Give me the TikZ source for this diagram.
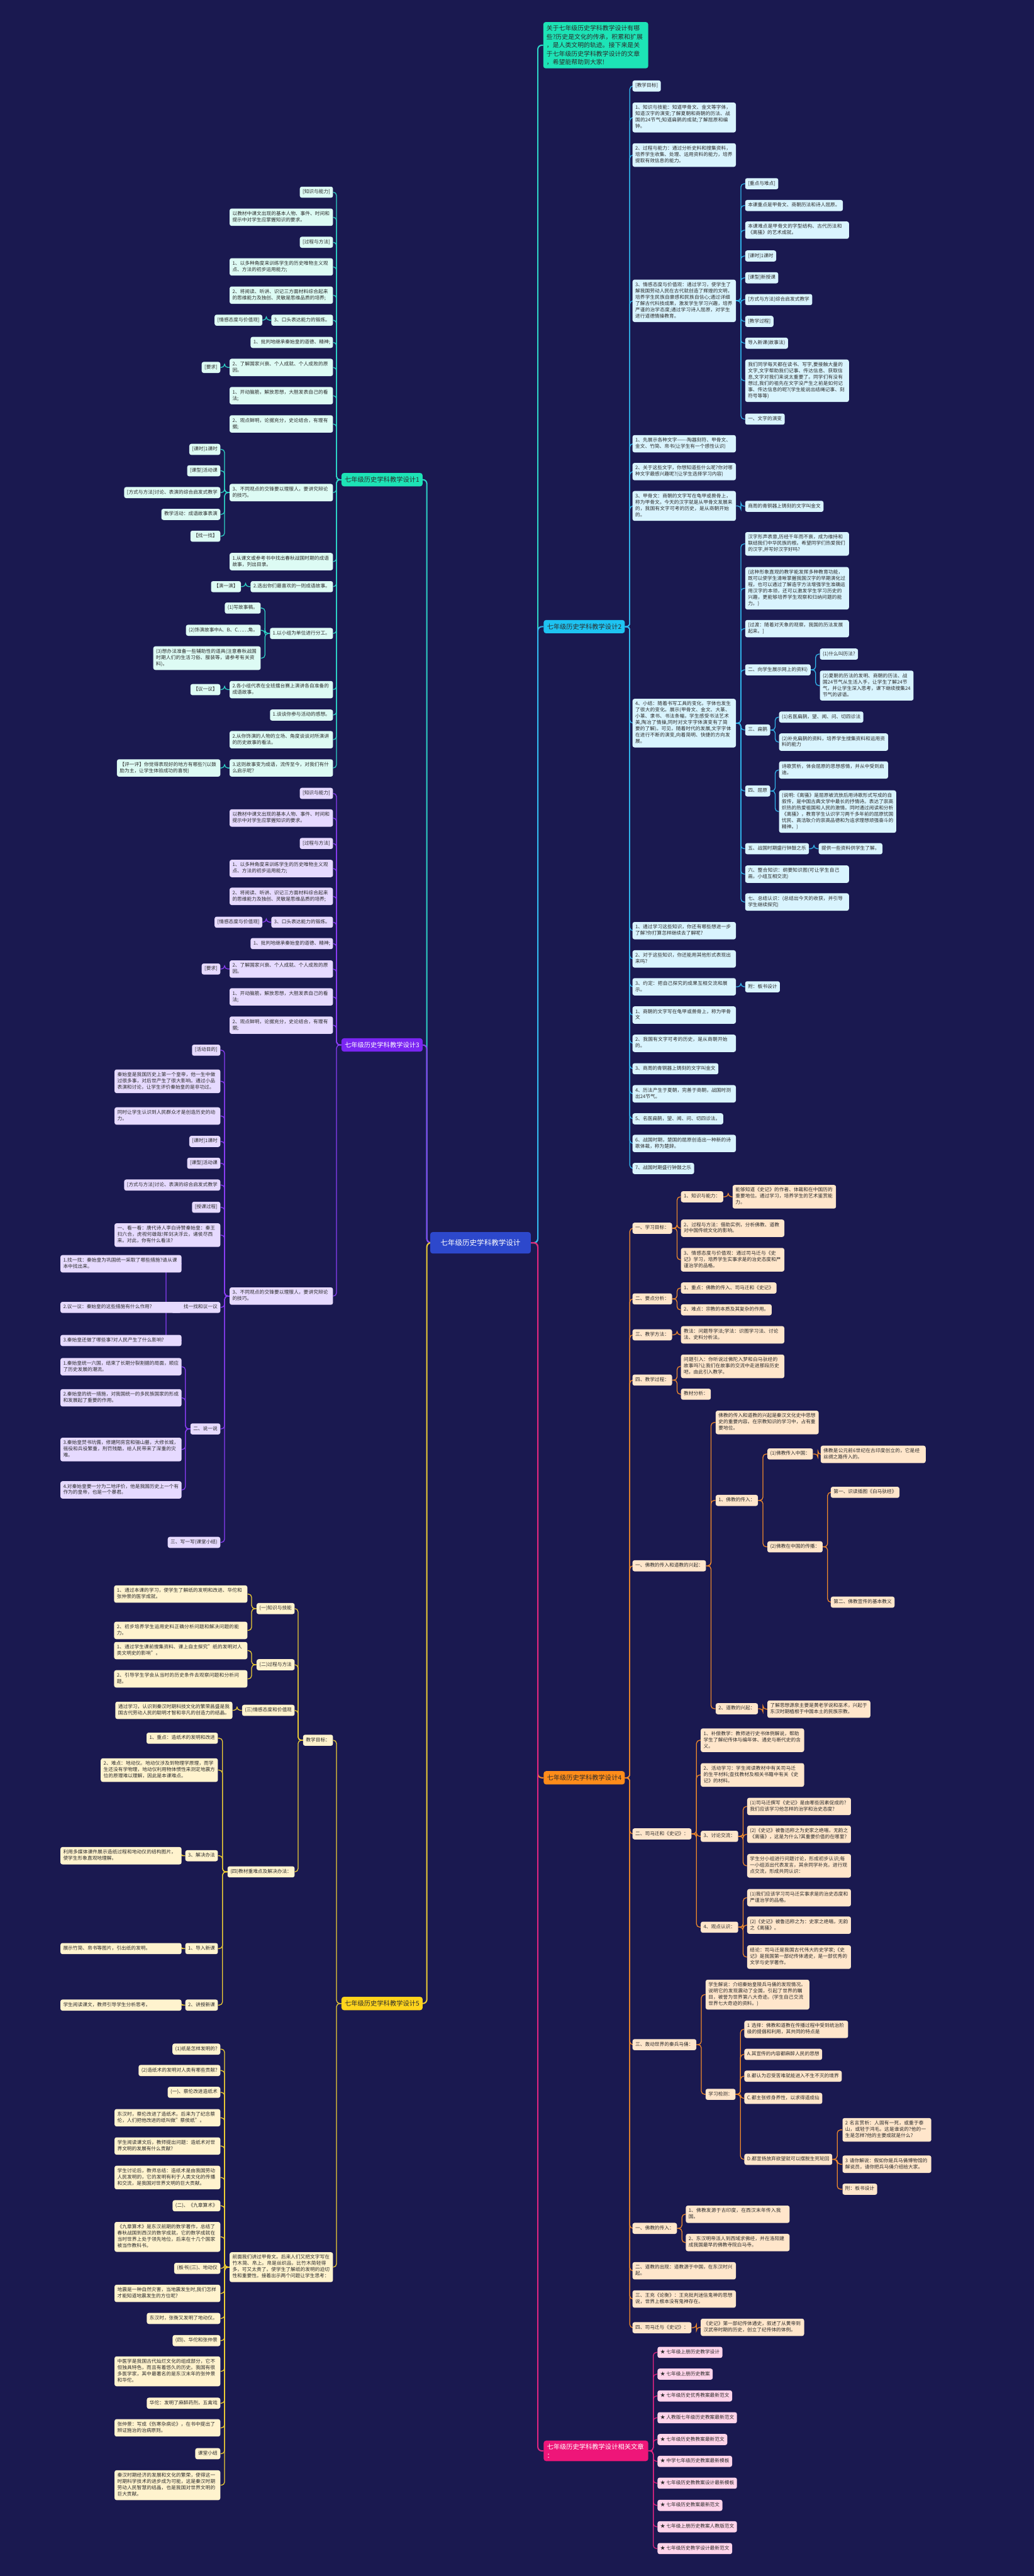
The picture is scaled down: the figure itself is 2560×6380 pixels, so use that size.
\documentclass[tikz,border=0pt]{standalone}
\usepackage{fontspec}
\setmainfont{Noto Sans CJK SC}
\XeTeXlinebreaklocale "zh"
\XeTeXlinebreakskip=0pt plus 0.3pt
\pgfdeclarelayer{bgl}\pgfdeclarelayer{lines}\pgfsetlayers{bgl,lines,main}
\definecolor{bgc}{HTML}{1A1950}
\definecolor{tx}{HTML}{2B2B2B}
\definecolor{c1m}{HTML}{1DE3B6}\definecolor{c1f}{HTML}{DDFBF4}\definecolor{c1l}{HTML}{2ED3C6}
\definecolor{c2m}{HTML}{1EC3F2}\definecolor{c2f}{HTML}{D9F4FE}\definecolor{c2l}{HTML}{32B6EC}
\definecolor{c3m}{HTML}{7A25F2}\definecolor{c3f}{HTML}{E6DAFF}\definecolor{c3l}{HTML}{8A3DF5}
\definecolor{c4m}{HTML}{FF8C1A}\definecolor{c4f}{HTML}{FFE6CB}\definecolor{c4l}{HTML}{F08A2C}
\definecolor{c5m}{HTML}{FFD41C}\definecolor{c5f}{HTML}{FFF3CE}\definecolor{c5l}{HTML}{EFCF35}
\definecolor{c6m}{HTML}{EE1679}\definecolor{c6f}{HTML}{FFD4EA}\definecolor{c6l}{HTML}{DE2580}
\definecolor{cm}{HTML}{2D48CC}
\tikzset{
 nd/.style={rounded corners=2.5pt, inner xsep=3.5pt, inner ysep=3pt, minimum height=13.5pt,
   align=left, text=tx, font=\fontsize{6}{7.75}\selectfont,
   execute at begin node=\strut, execute at end node=\strut},
 tw/.style={text width=#1*0.5pt-7pt},
 L/.style={anchor=east}, R/.style={anchor=west},
 k1/.style={nd, fill=c1f}, k2/.style={nd, fill=c2f}, k3/.style={nd, fill=c3f},
 k4/.style={nd, fill=c4f}, k5/.style={nd, fill=c5f}, k6/.style={nd, fill=c6f},
 mn/.style={rounded corners=3pt, minimum height=16.5pt, minimum width=98pt, inner xsep=4pt,
   font=\fontsize{8}{10}\selectfont},
 mn1/.style={mn, fill=c1m, text=tx}, mn2/.style={mn, fill=c2m, text=tx},
 mn3/.style={mn, fill=c3m, text=white}, mn4/.style={mn, fill=c4m, text=tx},
 mn5/.style={mn, fill=c5m, text=tx},
 ln/.style={line width=1pt, rounded corners=4pt},
 lm/.style={line width=1.6pt, rounded corners=5pt},
}
\newcommand\CL[2]{\foreach \chn in {#2}{\draw (#1.west) -- ++(-12,0) |- (\chn.east);}}
\newcommand\CR[2]{\foreach \chn in {#2}{\draw (#1.east) -- ++(12,0) |- (\chn.west);}}
\begin{document}
\begin{tikzpicture}[x=0.5pt,y=-0.5pt]
\useasboundingbox (0,0) rectangle (2560,6380);
\begin{pgfonlayer}{bgl}\fill[bgc] (0,0) rectangle (2560,6380);\end{pgfonlayer}

% ---------- centre ----------
\node[rounded corners=3pt, fill=cm, text=white, minimum width=124.5pt, minimum height=26.5pt,
  font=\fontsize{9}{11}\selectfont] (C) at (1190,3078) {七年级历史学科教学设计};

% ---------- intro ----------
\node[R, rounded corners=3pt, fill=c1m, text=tx, text width=122pt, inner xsep=4pt, inner ysep=4pt,
  align=left, font=\fontsize{7.7}{10.5}\selectfont] (I) at (1345,112)
 {关于七年级历史学科教学设计有哪\\些?历史是文化的传承，积累和扩展\\，是人类文明的轨迹。接下来是关\\于七年级历史学科教学设计的文章\\，希望能帮助到大家!};

% ---------- branch 1 ----------
\node[mn1,L] (B1) at (1047,1188) {七年级历史学科教学设计1};
\node[k1,L] (a1) at (825,476) {[知识与能力]};
\node[k1,L,tw=256] (a2) at (825,538) {以教材中课文出现的基本人物、事件、时间和提示中对学生应掌握知识的要求。};
\node[k1,L] (a3) at (825,600) {[过程与方法]};
\node[k1,L,tw=256] (a4) at (825,661) {1、以多种角度来训练学生的历史唯物主义观点、方法的初步运用能力;};
\node[k1,L,tw=256] (a5) at (825,731) {2、将阅读、听讲、识记三方面材料综合起来的思维能力及独创、灵敏是思维品质的培养;};
\node[k1,L] (a6) at (825,793) {3、口头表达能力的锻炼。};
\node[k1,L] (a6a) at (650,793) {[情感态度与价值观]};
\node[k1,L] (a7) at (825,848) {1、批判地继承秦始皇的道德、精神;};
\node[k1,L,tw=256] (a8) at (825,910) {2、了解国家兴衰、个人成就、个人成败的原因。};
\node[k1,L] (a8a) at (546,910) {[要求]};
\node[k1,L,tw=256] (a9) at (825,980) {1、开动脑筋，解放思想，大胆发表自己的看法;};
\node[k1,L,tw=256] (a10) at (825,1050) {2、观点鲜明，论据充分，史论结合，有理有据;};
\node[k1,L,tw=256] (a11) at (825,1220) {3、不同观点的交锋要以理服人，要讲究辩论的技巧。};
\node[k1,L] (a11a) at (546,1113) {[课时]1课时};
\node[k1,L] (a11b) at (546,1166) {[课型]活动课};
\node[k1,L] (a11c) at (546,1220) {[方式与方法]讨论、表演的综合启发式教学};
\node[k1,L] (a11d) at (546,1274) {教学活动：成语故事表演};
\node[k1,L] (a11e) at (546,1328) {【找一找】};
\node[k1,L,tw=256] (a12) at (825,1391) {1.从课文或参考书中找出春秋战国时期的成语故事，列出目录。};
\node[k1,L] (a13) at (825,1453) {2.选出你们最喜欢的一则成语故事。};
\node[k1,L] (a13a) at (597,1453) {【演一演】};
\node[k1,L] (a14) at (825,1569) {1.以小组为单位进行分工。};
\node[k1,L] (a14a) at (646,1506) {(1)写故事稿。};
\node[k1,L] (a14b) at (646,1561) {(2)饰演故事中A、B、C……角。};
\node[k1,L,tw=266] (a14c) at (646,1630) {(3)想办法准备一些辅助性的道具(注意春秋战国时期人们的生活习俗、服装等，请参考有关资料)。};
\node[k1,L,tw=256] (a15) at (825,1708) {2.各小组代表在全班擂台赛上演讲各自准备的成语故事。};
\node[k1,L] (a15a) at (546,1708) {【议一议】};
\node[k1,L] (a16) at (825,1771) {1.谈谈你参与活动的感想。};
\node[k1,L,tw=256] (a17) at (825,1832) {2.从你饰演的人物的立场、角度谈谈对所演讲的历史故事的看法。};
\node[k1,L,tw=256] (a18) at (825,1902) {3.这则故事变为成语，流传至今，对我们有什么启示呢?};
\node[k1,L,tw=256] (a18a) at (546,1902) {【评一评】你觉得表现好的地方有哪些?(以鼓励为主，让学生体验成功的喜悦)};

% ---------- branch 3 ----------
\node[mn3,L] (B3) at (1047,2588) {七年级历史学科教学设计3};
\node[k3,L] (b1) at (825,1965) {[知识与能力]};
\node[k3,L,tw=256] (b2) at (825,2026) {以教材中课文出现的基本人物、事件、时间和提示中对学生应掌握知识的要求。};
\node[k3,L] (b3) at (825,2089) {[过程与方法]};
\node[k3,L,tw=256] (b4) at (825,2151) {1、以多种角度来训练学生的历史唯物主义观点、方法的初步运用能力;};
\node[k3,L,tw=256] (b5) at (825,2220) {2、将阅读、听讲、识记三方面材料综合起来的思维能力及独创、灵敏是思维品质的培养;};
\node[k3,L] (b6) at (825,2284) {3、口头表达能力的锻炼。};
\node[k3,L] (b6a) at (650,2284) {[情感态度与价值观]};
\node[k3,L] (b7) at (825,2337) {1、批判地继承秦始皇的道德、精神;};
\node[k3,L,tw=256] (b8) at (825,2400) {2、了解国家兴衰、个人成就、个人成败的原因。};
\node[k3,L] (b8a) at (546,2400) {[要求]};
\node[k3,L,tw=256] (b9) at (825,2469) {1、开动脑筋，解放思想，大胆发表自己的看法;};
\node[k3,L,tw=256] (b10) at (825,2539) {2、观点鲜明，论据充分，史论结合，有理有据;};
\node[k3,L,tw=256] (b11) at (825,3210) {3、不同观点的交锋要以理服人，要讲究辩论的技巧。};
\node[k3,L] (b11a) at (546,2601) {[活动目的]};
\node[k3,L,tw=262] (b11b) at (546,2678) {秦始皇是我国历史上第一个皇帝，他一生中做过很多事，对后世产生了很大影响。通过小品表演和讨论，让学生评价秦始皇的是非功过。};
\node[k3,L,tw=262] (b11c) at (546,2764) {同时让学生认识到人民群众才是创造历史的动力。};
\node[k3,L] (b11d) at (546,2827) {[课时]1课时};
\node[k3,L] (b11e) at (546,2881) {[课型]活动课};
\node[k3,L] (b11f) at (546,2935) {[方式与方法]讨论、表演的综合启发式教学};
\node[k3,L] (b11g) at (546,2990) {[授课过程]};
\node[k3,L,tw=262] (b11h) at (546,3059) {一、看一看：唐代诗人李白诗赞秦始皇：秦王扫六合，虎视何雄哉!挥剑决浮云，诸侯尽西来。对此，你有什么看法?};
\node[k3,L] (b11i) at (546,3238) {一、找一找和议一议};
\node[k3,L] (b11j) at (546,3539) {二、说一说};
\node[k3,L] (b11k) at (546,3820) {三、写一写(课堂小结)};
\node[k3,L,tw=300] (c1) at (450,3130) {1.找一找：秦始皇为巩固统一采取了哪些措施?请从课本中找出来。};
\node[k3,L,tw=300] (c2) at (450,3238) {2.议一议：秦始皇的这些措施有什么作用?};
\node[k3,L,tw=300] (c3) at (450,3320) {3.秦始皇还做了哪些事?对人民产生了什么影响?};
\node[k3,L,tw=300] (d1) at (450,3385) {1.秦始皇统一六国，结束了长期分裂割据的局面，顺应了历史发展的潮流。};
\node[k3,L,tw=300] (d2) at (450,3462) {2.秦始皇的统一措施，对我国统一的多民族国家的形成和发展起了重要的作用。};
\node[k3,L,tw=300] (d3) at (450,3590) {3.秦始皇焚书坑儒，修建阿房宫和骊山墓，大修长城，徭役和兵役繁重，刑罚残酷，给人民带来了深重的灾难。};
\node[k3,L,tw=300] (d4) at (450,3690) {4.对秦始皇要一分为二地评价，他是我国历史上一个有作为的皇帝，也是一个暴君。};

% ---------- branch 5 ----------
\node[mn5,L] (B5) at (1047,4962) {七年级历史学科教学设计5};
\node[k5,L] (e1) at (825,4310) {教学目标：};
\node[k5,L] (e1a) at (730,3984) {(一)知识与技能};
\node[k5,L,tw=330] (e1a1) at (613,3948) {1、通过本课的学习，使学生了解纸的发明和改进、华佗和张仲景的医学成就。};
\node[k5,L,tw=330] (e1a2) at (613,4038) {2、初步培养学生运用史料正确分析问题和解决问题的能力。};
\node[k5,L] (e1b) at (730,4123) {(二)过程与方法};
\node[k5,L,tw=330] (e1b1) at (613,4088) {1、通过学生课前搜集资料、课上自主探究"纸的发明对人类文明史的影响"。};
\node[k5,L,tw=330] (e1b2) at (613,4158) {2、引导学生学会从当时的历史条件去观察问题和分析问题。};
\node[k5,L] (e1c) at (730,4236) {(三)情感态度和价值观};
\node[k5,L,tw=290] (e1c1) at (576,4236) {通过学习，认识到秦汉时期科技文化的繁荣昌盛是我国古代劳动人民的聪明才智和非凡的创造力的结晶。};
\node[k5,L] (e1d) at (730,4636) {(四)教材重难点及解决办法：};
\node[k5,L] (e1d1) at (540,4305) {1、重点：造纸术的发明和改进};
\node[k5,L,tw=290] (e1d2) at (540,4384) {2、难点：地动仪。地动仪涉及到物理学原理，而学生还没有学物理，地动仪利用物体惯性来测定地震方位的原理难以理解，因此是本课难点。};
\node[k5,L] (e1d3) at (540,4596) {3、解决办法};
\node[k5,L,tw=300] (e1d3a) at (450,4596) {利用多媒体课件展示造纸过程和地动仪的结构图片，使学生形象直观地理解。};
\node[k5,L] (e1d4) at (540,4826) {1、导入新课};
\node[k5,L,tw=300] (e1d4a) at (450,4826) {展示竹简、帛书等图片，引出纸的发明。};
\node[k5,L] (e1d5) at (540,4966) {2、讲授新课};
\node[k5,L,tw=300] (e1d5a) at (450,4966) {学生阅读课文，教师引导学生分析思考。};
\node[k5,L,tw=256] (e2) at (825,5615) {前面我们讲过甲骨文。后来人们又把文字写在竹木简、帛上。帛是丝织品，比竹木简轻得多，可又太贵了。使学生了解纸的发明的迫切性和重要性。接着出示两个问题让学生思考：};
\node[k5,L] (e2a) at (546,5075) {(1)纸是怎样发明的?};
\node[k5,L] (e2b) at (546,5128) {(2)造纸术的发明对人类有哪些贡献?};
\node[k5,L] (e2c) at (546,5182) {(一)、蔡伦改进造纸术};
\node[k5,L,tw=262] (e2d) at (546,5245) {东汉时，蔡伦改进了造纸术。后来为了纪念蔡伦，人们把他改进的纸叫做"蔡侯纸"。};
\node[k5,L,tw=262] (e2e) at (546,5315) {学生阅读课文后，教师提出问题：造纸术对世界文明的发展有什么贡献?};
\node[k5,L,tw=262] (e2f) at (546,5393) {学生讨论后，教师总结：造纸术是由我国劳动人民发明的，它的发明有利于人类文化的传播和交流，是我国对世界文明的巨大贡献。};
\node[k5,L] (e2g) at (546,5463) {(二)、《九章算术》};
\node[k5,L,tw=262] (e2h) at (546,5540) {《九章算术》是东汉前期的数学著作，总结了春秋战国到西汉的数学成就，它的数学成就在当时世界上处于领先地位，后来在十几个国家被当作教科书。};
\node[k5,L] (e2i) at (546,5618) {(板书)(三)、地动仪};
\node[k5,L,tw=262] (e2j) at (546,5680) {地震是一种自然灾害，当地震发生时,我们怎样才能知道地震发生的方位呢?};
\node[k5,L] (e2k) at (546,5742) {东汉时，张衡又发明了地动仪。};
\node[k5,L] (e2l) at (546,5797) {(四)、华佗和张仲景};
\node[k5,L,tw=262] (e2m) at (546,5873) {中医学是我国古代灿烂文化的组成部分，它不但独具特色，而且有着悠久的历史。我国有很多医学家，其中最著名的是东汉末年的张仲景和华佗。};
\node[k5,L] (e2n) at (546,5952) {华佗：发明了麻醉药剂，五禽戏};
\node[k5,L,tw=262] (e2o) at (546,6013) {张仲景：写成《伤寒杂病论》，在书中提出了辨证施治的治病原则。};
\node[k5,L] (e2p) at (546,6077) {课堂小结};
\node[k5,L,tw=262] (e2q) at (546,6155) {秦汉时期经济的发展和文化的繁荣，使得这一时期科学技术的进步成为可能，这是秦汉时期劳动人民智慧的结晶，也是我国对世界文明的巨大贡献。};

% ---------- branch 2 ----------
\node[mn2,R] (B2) at (1346,1552) {七年级历史学科教学设计2};
\node[k2,R] (r1) at (1566,213) {[教学目标]};
\node[k2,R,tw=256] (r2) at (1566,291) {1、知识与技能：知道甲骨文、金文等字体，知道汉字的演变;了解夏朝和商朝的历法、战国的24节气;知道扁鹊的成就;了解屈原和编钟。};
\node[k2,R,tw=256] (r3) at (1566,384) {2、过程与能力：通过分析史料和搜集资料，培养学生收集、处理、运用资料的能力，培养提取有效信息的能力。};
\node[k2,R,tw=256] (r4) at (1566,745) {3、情感态度与价值观：通过学习，使学生了解我国劳动人民在古代就创造了辉煌的文明，培养学生民族自豪感和民族自信心;通过详细了解古代科技成果，激发学生学习兴趣，培养严谨的治学态度;通过学习诗人屈原，对学生进行道德情操教育。};
\node[k2,R] (r4a) at (1845,455) {[重点与难点]};
\node[k2,R] (r4b) at (1845,509) {本课重点是甲骨文、商朝历法和诗人屈原。};
\node[k2,R,tw=257] (r4c) at (1845,570) {本课难点是甲骨文的字型结构、古代历法和《离骚》的艺术成就。};
\node[k2,R] (r4d) at (1845,634) {[课时]1课时};
\node[k2,R] (r4e) at (1845,688) {[课型]新授课};
\node[k2,R] (r4f) at (1845,742) {[方式与方法]综合启发式教学};
\node[k2,R] (r4g) at (1845,796) {[教学过程]};
\node[k2,R] (r4h) at (1845,850) {导入新课(故事法)};
\node[k2,R,tw=257] (r4i) at (1845,943) {我们同学每天都在读书、写字,要接触大量的文字,文字帮助我们记事、传达信息、获取信息,文字对我们来说太重要了。同学们有没有想过,我们的祖先在文字没产生之前是如何记事、传达信息的呢?(学生能说出结绳记事、刻符号等等)};
\node[k2,R] (r4j) at (1845,1038) {一、文字的演变};
\node[k2,R,tw=256] (r5) at (1566,1099) {1、先展示各种文字——-陶器刻符、甲骨文、金文、竹简、帛书(让学生有一个感性认识)};
\node[k2,R,tw=256] (r6) at (1566,1168) {2、关于这些文字，你想知道些什么呢?你对哪种文字最感兴趣呢?(让学生选择学习内容)};
\node[k2,R,tw=256] (r7) at (1566,1253) {3、甲骨文：商朝的文字写在龟甲或兽骨上，称为甲骨文。今天的汉字就是从甲骨文发展来的，我国有文字可考的历史，是从商朝开始的。};
\node[k2,R] (r7a) at (1845,1254) {商周的青铜器上铸刻的文字叫金文};
\node[k2,R,tw=256] (r8) at (1566,1791) {4、小结：随着书写工具的变化，字体也发生了很大的变化。展示(甲骨文、金文、大篆、小篆、隶书、书法条幅，学生感受书法艺术美,陶冶了情操,同时对文字字体演变有了简要的了解)。可见，随着时代的发展,文字字体在进行不断的演变,向着简明、快捷的方向发展。};
\node[k2,R,tw=257] (r8a) at (1845,1347) {汉字形声表意,历经千年而不衰，成为维持和联结我们中华民族的根。希望同学们热爱我们的汉字,并写好汉字好吗?};
\node[k2,R,tw=257] (r8b) at (1845,1457) {(这种形象直观的教学能发挥多种教育功能，既可以使学生清晰掌握我国汉字的早期演化过程，也可以通过了解造字方法增强学生准确运用汉字的本领，还可以激发学生学习历史的兴趣，更能够培养学生观察和归纳问题的能力。)};
\node[k2,R,tw=257] (r8c) at (1845,1557) {[过渡：随着对天象的观察，我国的历法发展起来。]};
\node[k2,R] (r8d) at (1845,1659) {二、向学生展示网上的资料)};
\node[k2,R] (r8d1) at (2030,1620) {(1)什么叫历法?};
\node[k2,R,tw=232] (r8d2) at (2030,1698) {(2)夏朝的历法的发明、商朝的历法、战国24节气从生活入手，让学生了解24节气，并让学生深入思考，课下继续搜集24节气的谚语。};
\node[k2,R] (r8e) at (1845,1808) {三、扁鹊};
\node[k2,R] (r8e1) at (1929,1776) {(1)名医扁鹊，望、闻、问、切四诊法};
\node[k2,R,tw=270] (r8e2) at (1929,1838) {(2)补充扁鹊的资料，培养学生搜集资料和运用资料的能力};
\node[k2,R] (r8f) at (1845,1959) {四、屈原};
\node[k2,R,tw=270] (r8f1) at (1929,1907) {诗歌赏析，体会屈原的思想感情，并从中受到启迪。};
\node[k2,R,tw=290] (r8f2) at (1929,2010) {(说明:《离骚》是屈原被流放后用诗歌形式写成的自叙传，是中国古典文学中最长的抒情诗。表达了崇高炽热的热爱祖国和人民的激情。同时通过阅读和分析《离骚》，教育学生认识学习两千多年前的屈原忧国忧民、高洁耿介的崇高品德和为追求理想顽强奋斗的精神。)};
\node[k2,R] (r8g) at (1845,2102) {五、战国时期盛行钟鼓之乐};
\node[k2,R] (r8g1) at (2027,2102) {提供一些资料供学生了解。};
\node[k2,R,tw=257] (r8h) at (1845,2165) {六、整合知识：纲要知识图(可让学生自己画，小组互相交流)};
\node[k2,R,tw=257] (r8i) at (1845,2234) {七、总结认识：(总结出今天的收获，并引导学生继续探究)};
\node[k2,R,tw=256] (r9) at (1566,2305) {1、通过学习这些知识，你还有哪些想进一步了解?你打算怎样继续去了解呢?};
\node[k2,R,tw=256] (r10) at (1566,2375) {2、对于这些知识，你还能用其他形式表现出来吗?};
\node[k2,R,tw=256] (r11) at (1566,2444) {3、约定：把自己探究的成果互相交流和展示。};
\node[k2,R] (r11a) at (1845,2444) {附：板书设计};
\node[k2,R,tw=256] (r12) at (1566,2514) {1、商朝的文字写在龟甲或兽骨上，称为甲骨文};
\node[k2,R,tw=256] (r13) at (1566,2584) {2、我国有文字可考的历史，是从商朝开始的。};
\node[k2,R] (r14) at (1566,2647) {3、商周的青铜器上铸刻的文字叫金文};
\node[k2,R,tw=256] (r15) at (1566,2709) {4、历法产生于夏朝，完善于商朝，战国时测出24节气。};
\node[k2,R] (r16) at (1566,2771) {5、名医扁鹊，望、闻、问、切四诊法。};
\node[k2,R,tw=256] (r17) at (1566,2832) {6、战国时期，楚国的屈原创造出一种新的诗歌体裁，称为楚辞。};
\node[k2,R] (r18) at (1566,2894) {7、战国时期盛行钟鼓之乐};

% ---------- branch 4 ----------
\node[mn4,R] (B4) at (1346,4403) {七年级历史学科教学设计4};
\node[k4,R] (s1) at (1566,3042) {一、学习目标：};
\node[k4,R] (s1a) at (1686,2964) {1、知识与能力：};
\node[k4,R,tw=256] (s1a1) at (1814,2964) {能够知道《史记》的作者、体裁和在中国历的重要地位。通过学习，培养学生的艺术鉴赏能力。};
\node[k4,R,tw=256] (s1b) at (1686,3042) {2、过程与方法：借助实例，分析佛教、道教对中国传统文化的影响。};
\node[k4,R,tw=256] (s1c) at (1686,3120) {3、情感态度与价值观：通过司马迁与《史记》学习，培养学生实事求是的治史态度和严谨治学的品格。};
\node[k4,R] (s2) at (1566,3217) {二、要点分析：};
\node[k4,R] (s2a) at (1686,3190) {1、重点：佛教的传入、司马迁和《史记》};
\node[k4,R] (s2b) at (1686,3244) {2、难点：宗教的本质及其复杂的作用。};
\node[k4,R] (s3) at (1566,3306) {三、教学方法：};
\node[k4,R,tw=256] (s3a) at (1686,3306) {教法：问题导学法;学法：识图学习法、讨论法、史料分析法。};
\node[k4,R] (s4) at (1566,3418) {四、教学过程：};
\node[k4,R,tw=256] (s4a) at (1686,3384) {问题引入：你听说过佛陀入梦和白马驮经的故事吗?让我们在故事的交流中走进那段历史吧，由此引入教学。};
\node[k4,R] (s4b) at (1686,3453) {教材分析：};
\node[k4,R] (s5) at (1566,3878) {一、佛教的传入和道教的兴起：};
\node[k4,R,tw=255] (s5a) at (1772,3523) {佛教的传入和道教的兴起是秦汉文化史中思想史的重要内容。在宗教知识的学习中，占有重要地位。};
\node[k4,R] (s5b) at (1772,3716) {1、佛教的传入：};
\node[k4,R] (s5b1) at (1900,3601) {(1)佛教传入中国：};
\node[k4,R,tw=260] (s5b1a) at (2032,3602) {佛教是公元前6世纪在古印度创立的，它是经丝绸之路传入的。};
\node[k4,R] (s5b2) at (1900,3831) {(2)佛教在中国的传播：};
\node[k4,R] (s5b2a) at (2057,3696) {第一、识读插图《白马驮经》};
\node[k4,R] (s5b2b) at (2057,3968) {第二、佛教宣传的基本教义};
\node[k4,R] (s5c) at (1772,4232) {2、道教的兴起：};
\node[k4,R,tw=255] (s5c1) at (1900,4233) {了解思想源泉主要是黄老学说和巫术，兴起于东汉时期植根于中国本土的民族宗教。};
\node[k4,R] (s6) at (1566,4542) {二、司马迁和《史记》：};
\node[k4,R,tw=256] (s6a) at (1735,4310) {1、补偿教学：教师进行史书体例解说，帮助学生了解纪传体与编年体、通史与断代史的含义。};
\node[k4,R,tw=256] (s6b) at (1735,4396) {2、活动学习：学生阅读教材中有关司马迁的生平材料;查找教材及相关书籍中有关《史记》的材料。};
\node[k4,R] (s6c) at (1735,4548) {3、讨论交流：};
\node[k4,R,tw=257] (s6c1) at (1850,4474) {(1)司马迁撰写《史记》是由哪些因素促成的?我们应该学习他怎样的治学和治史态度?};
\node[k4,R,tw=257] (s6c2) at (1850,4543) {(2)《史记》被鲁迅称之为史家之绝唱，无韵之《离骚》，这是为什么?其重要价值的在哪里?};
\node[k4,R,tw=257] (s6c3) at (1850,4621) {学生分小组进行问题讨论，形成初步认识;每一小组派出代表发言，其余同学补充，进行观点交流，形成共同认识：};
\node[k4,R] (s6d) at (1735,4773) {4、观点认识：};
\node[k4,R,tw=257] (s6d1) at (1850,4700) {(1)我们应该学习司马迁实事求是的治史态度和严谨治学的品格。};
\node[k4,R,tw=257] (s6d2) at (1850,4768) {(2)《史记》被鲁迅称之为：史家之绝唱，无韵之《离骚》。};
\node[k4,R,tw=257] (s6d3) at (1850,4847) {结论：司马迁是我国古代伟大的史学家;《史记》是我国第一部纪传体通史，是一部优秀的文学与史学著作。};
\node[k4,R] (s7) at (1566,5064) {三、轰动世界的秦兵马俑：};
\node[k4,R,tw=257] (s7a) at (1747,4940) {学生解说：介绍秦始皇陵兵马俑的发现情况。说明它的发现震动了全国，引起了世界的瞩目，被誉为世界第八大奇迹。(学生自己交流世界七大奇迹的资料。)};
\node[k4,R] (s7b) at (1747,5187) {学习检测：};
\node[k4,R,tw=257] (s7b1) at (1843,5026) {1 选择：佛教和道教在传播过程中受到统治阶级的提倡和利用，其共同的特点是};
\node[k4,R] (s7b2) at (1843,5088) {A.其宣传的内容都麻醉人民的思想};
\node[k4,R] (s7b3) at (1843,5142) {B.都认为忍受苦难就能进入不生不灭的境界};
\node[k4,R] (s7b4) at (1843,5197) {C.都主张修身养性，以求得道成仙};
\node[k4,R] (s7b5) at (1843,5348) {D.都宣扬放弃欲望就可以摆脱生死轮回};
\node[k4,R,tw=220] (s7b5a) at (2086,5275) {2 名言赏析：人固有一死，或重于泰山，或轻于鸿毛。这是谁说的?他的一生是怎样?他的主要成就是什么?};
\node[k4,R,tw=220] (s7b5b) at (2086,5360) {3 请你解说：假如你是兵马俑博物馆的解说员，请你把兵马俑介绍给大家。};
\node[k4,R] (s7b5c) at (2086,5422) {附：板书设计};
\node[k4,R] (s8) at (1566,5519) {一、佛教的传入：};
\node[k4,R,tw=257] (s8a) at (1698,5484) {1、佛教发源于古印度，在西汉末年传入我国。};
\node[k4,R,tw=257] (s8b) at (1698,5554) {2、东汉明帝派人到西域求佛经，并在洛阳建成我国最早的佛教寺院白马寺。};
\node[k4,R,tw=256] (s9) at (1566,5624) {二、道教的出现：道教源于中国，在东汉时兴起。};
\node[k4,R,tw=256] (s10) at (1566,5694) {三、王充《论衡》：王充批判迷信鬼神的思想说，世界上根本没有鬼神存在。};
\node[k4,R] (s11) at (1566,5765) {四、司马迁与《史记》：};
\node[k4,R,tw=256] (s11a) at (1735,5764) {《史记》第一部纪传体通史，叙述了从黄帝到汉武帝时期的历史，创立了纪传体的体例。};

% ---------- related articles ----------
\node[R, rounded corners=3pt, fill=c6m, text=white, text width=121.5pt, inner xsep=4pt, inner ysep=4pt,
  align=left, font=\fontsize{8}{10.5}\selectfont] (P) at (1346,6070) {七年级历史学科教学设计相关文章\\：};
\node[k6,R] (p1) at (1628,5826) {★ 七年级上册历史教学设计};
\node[k6,R] (p2) at (1628,5880) {★ 七年级上册历史教案};
\node[k6,R] (p3) at (1628,5934) {★ 七年级历史优秀教案最新范文};
\node[k6,R] (p4) at (1628,5988) {★ 人教版七年级历史教案最新范文};
\node[k6,R] (p5) at (1628,6042) {★ 七年级历史教教案最新范文};
\node[k6,R] (p6) at (1628,6096) {★ 中学七年级历史教案最新模板};
\node[k6,R] (p7) at (1628,6150) {★ 七年级历史教教案设计最新模板};
\node[k6,R] (p8) at (1628,6205) {★ 七年级历史教案最新范文};
\node[k6,R] (p9) at (1628,6258) {★ 七年级上册历史教案人教版范文};
\node[k6,R] (p10) at (1628,6312) {★ 七年级历史教学设计最新范文};

% ---------- connectors ----------
\begin{pgfonlayer}{lines}
\draw[lm,c1l] (C.west) -- ++(-8,0) |- (B1.east);
\draw[lm,c3l] (C.west) -- ++(-8,0) |- (B3.east);
\draw[lm,c5l] (C.west) -- ++(-8,0) |- (B5.east);
\draw[lm,c1l] (C.east) -- ++(17,0) |- (I.west);
\draw[lm,c2l] (C.east) -- ++(17,0) |- (B2.west);
\draw[lm,c4l] (C.east) -- ++(17,0) |- (B4.west);
\draw[lm,c6l] (C.east) -- ++(17,0) |- (P.west);
\begin{scope}[ln,c1l]
\CL{B1}{a1,a2,a3,a4,a5,a6,a7,a8,a9,a10,a11,a12,a13,a14,a15,a16,a17,a18}
\CL{a6}{a6a}\CL{a8}{a8a}\CL{a11}{a11a,a11b,a11c,a11d,a11e}
\CL{a13}{a13a}\CL{a14}{a14a,a14b,a14c}\CL{a15}{a15a}\CL{a18}{a18a}
\end{scope}
\begin{scope}[ln,c3l]
\CL{B3}{b1,b2,b3,b4,b5,b6,b7,b8,b9,b10,b11}
\CL{b6}{b6a}\CL{b8}{b8a}
\CL{b11}{b11a,b11b,b11c,b11d,b11e,b11f,b11g,b11h,b11i,b11j,b11k}
\CL{b11i}{c1,c2,c3}\CL{b11j}{d1,d2,d3,d4}
\end{scope}
\begin{scope}[ln,c5l]
\CL{B5}{e1,e2}
\CL{e1}{e1a,e1b,e1c,e1d}
\CL{e1a}{e1a1,e1a2}\CL{e1b}{e1b1,e1b2}\CL{e1c}{e1c1}
\CL{e1d}{e1d1,e1d2,e1d3,e1d4,e1d5}
\CL{e1d3}{e1d3a}\CL{e1d4}{e1d4a}\CL{e1d5}{e1d5a}
\CL{e2}{e2a,e2b,e2c,e2d,e2e,e2f,e2g,e2h,e2i,e2j,e2k,e2l,e2m,e2n,e2o,e2p,e2q}
\end{scope}
\begin{scope}[ln,c2l]
\CR{B2}{r1,r2,r3,r4,r5,r6,r7,r8,r9,r10,r11,r12,r13,r14,r15,r16,r17,r18}
\CR{r4}{r4a,r4b,r4c,r4d,r4e,r4f,r4g,r4h,r4i,r4j}
\CR{r7}{r7a}
\CR{r8}{r8a,r8b,r8c,r8d,r8e,r8f,r8g,r8h,r8i}
\CR{r8d}{r8d1,r8d2}\CR{r8e}{r8e1,r8e2}\CR{r8f}{r8f1,r8f2}\CR{r8g}{r8g1}
\CR{r11}{r11a}
\end{scope}
\begin{scope}[ln,c4l]
\CR{B4}{s1,s2,s3,s4,s5,s6,s7,s8,s9,s10,s11}
\CR{s1}{s1a,s1b,s1c}\CR{s1a}{s1a1}
\CR{s2}{s2a,s2b}\CR{s3}{s3a}\CR{s4}{s4a,s4b}
\CR{s5}{s5a,s5b,s5c}\CR{s5b}{s5b1,s5b2}\CR{s5b1}{s5b1a}\CR{s5b2}{s5b2a,s5b2b}\CR{s5c}{s5c1}
\CR{s6}{s6a,s6b,s6c,s6d}\CR{s6c}{s6c1,s6c2,s6c3}\CR{s6d}{s6d1,s6d2,s6d3}
\CR{s7}{s7a,s7b}\CR{s7b}{s7b1,s7b2,s7b3,s7b4,s7b5}\CR{s7b5}{s7b5a,s7b5b,s7b5c}
\CR{s8}{s8a,s8b}\CR{s11}{s11a}
\end{scope}
\begin{scope}[ln,c6l]
\CR{P}{p1,p2,p3,p4,p5,p6,p7,p8,p9,p10}
\end{scope}
\end{pgfonlayer}
\end{tikzpicture}
\end{document}
